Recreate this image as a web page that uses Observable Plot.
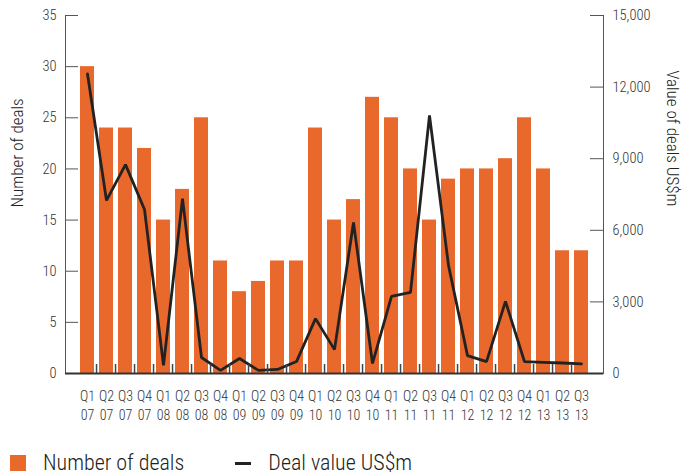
<!DOCTYPE html>
<html>
<head>
<meta charset="utf-8">
<script src="https://cdn.jsdelivr.net/npm/d3@7"></script>
<script src="https://cdn.jsdelivr.net/npm/@observablehq/plot@0.6"></script>
<style>
  html, body { margin: 0; padding: 0; background: #fff; }
  #chart { width: 682px; height: 475px; position: relative; overflow: hidden; }
  .legend { position: absolute; left: 0; top: 452px; display: flex; align-items: center; height: 22px; line-height: 22px; font-family: Roboto, sans-serif; font-stretch: 75%; font-weight: 300; font-size: 22px; color: #222; }
  .legend .item { display: flex; align-items: center; height: 22px; }
  .sw { display: inline-block; }
</style>
</head>
<body>
<div id="chart"></div>
<script>
const quarters = ["Q1 07","Q2 07","Q3 07","Q4 07","Q1 08","Q2 08","Q3 08","Q4 08","Q1 09","Q2 09","Q3 09","Q4 09","Q1 10","Q2 10","Q3 10","Q4 10","Q1 11","Q2 11","Q3 11","Q4 11","Q1 12","Q2 12","Q3 12","Q4 12","Q1 13","Q2 13","Q3 13"];
const deals = [30,24,24,22,15,18,25,11,8,9,11,11,24,15,17,27,25,20,15,19,20,20,21,25,20,12,12];
const dealValue = [12550,7250,8750,6870,340,7330,670,130,630,130,170,500,2300,1000,6330,420,3230,3400,10810,4530,750,500,3020,500,470,440,400];
const leftTicks = [0,5,10,15,20,25,30,35];
const rightTicks = [0,3000,6000,9000,12000,15000];
const leftMax = 35, rightMax = 15000;
const seriesNames = ["Number of deals", "Deal value US$m"];
const axisTitles = ["Number of deals", "Value of deals US$m"];

const orange = "#E8692B";
const font = "Roboto, sans-serif";
const W = 682, H = 446, mL = 65, mR = 79, mT = 15, mB = 73;
const pw = W - mL - mR, ph = H - mT - mB;
const step = pw / quarters.length;
const toLeft = v => v * leftMax / rightMax;
const rows = quarters.map((q, i) => ({q, deals: deals[i], value: dealValue[i]}));

const chart = Plot.plot({
  width: W, height: H,
  marginLeft: mL, marginRight: mR, marginTop: mT, marginBottom: mB,
  style: {fontFamily: font, fontStretch: "75%", fontWeight: 300, color: "#333", background: "#fff"},
  x: {type: "band", domain: quarters, paddingInner: 0.25, paddingOuter: 0.125, label: null},
  y: {domain: [0, leftMax], label: null},
  marks: [
    Plot.barY(rows, {x: "q", y: "deals", fill: orange}),
    Plot.lineY(rows, {x: "q", y: d => toLeft(d.value), stroke: "#222", strokeWidth: 2.8, strokeLinejoin: "miter"}),
    Plot.frame({anchor: "left", stroke: "#555"}),
    Plot.frame({anchor: "right", stroke: "#555"}),
    Plot.tickY(leftTicks, {y: d => d, insetRight: pw - 13, stroke: "#555"}),
    Plot.tickY(rightTicks, {y: d => toLeft(d), insetLeft: pw - 13, stroke: "#555"}),
    Plot.tickX(quarters.slice(1), {x: d => d, dx: -step / 2, insetTop: ph - 9, stroke: "#444", strokeWidth: 1.5}),
    Plot.ruleY([0], {stroke: "#333", strokeWidth: 2}),
    Plot.axisY({ticks: leftTicks, tickSize: 0, tickPadding: 9, fontSize: 14.5, label: null, tickFormat: d => d}),
    Plot.axisY({anchor: "right", ticks: rightTicks.map(toLeft), tickSize: 0, tickPadding: 9, fontSize: 14.5, label: null, tickFormat: d => d3.format(",")(Math.round(d * rightMax / leftMax))}),
    Plot.axisX({tickSize: 0, tickPadding: 14, fontSize: 14, lineHeight: 1.36, label: null, tickFormat: d => d.replace(" ", "\n")}),
    Plot.text([axisTitles[0]], {frameAnchor: "left", dx: -48, dy: 13, rotate: -90, fontSize: 17, fill: "#222"}),
    Plot.text([axisTitles[1]], {frameAnchor: "right", dx: 69, dy: 12, rotate: 90, fontSize: 17, fill: "#222"})
  ]
});
document.getElementById("chart").appendChild(chart);

const legend = document.createElement("div");
legend.className = "legend";
legend.innerHTML = `
  <div class="item" style="margin-left:10px"><span class="sw" style="width:16px;height:16px;background:${orange}"></span><span style="margin-left:17px">${seriesNames[0]}</span></div>
  <div class="item" style="margin-left:51px"><span class="sw" style="width:16px;height:3px;background:#222"></span><span style="margin-left:17px">${seriesNames[1]}</span></div>`;
document.getElementById("chart").appendChild(legend);
</script>
</body>
</html>
